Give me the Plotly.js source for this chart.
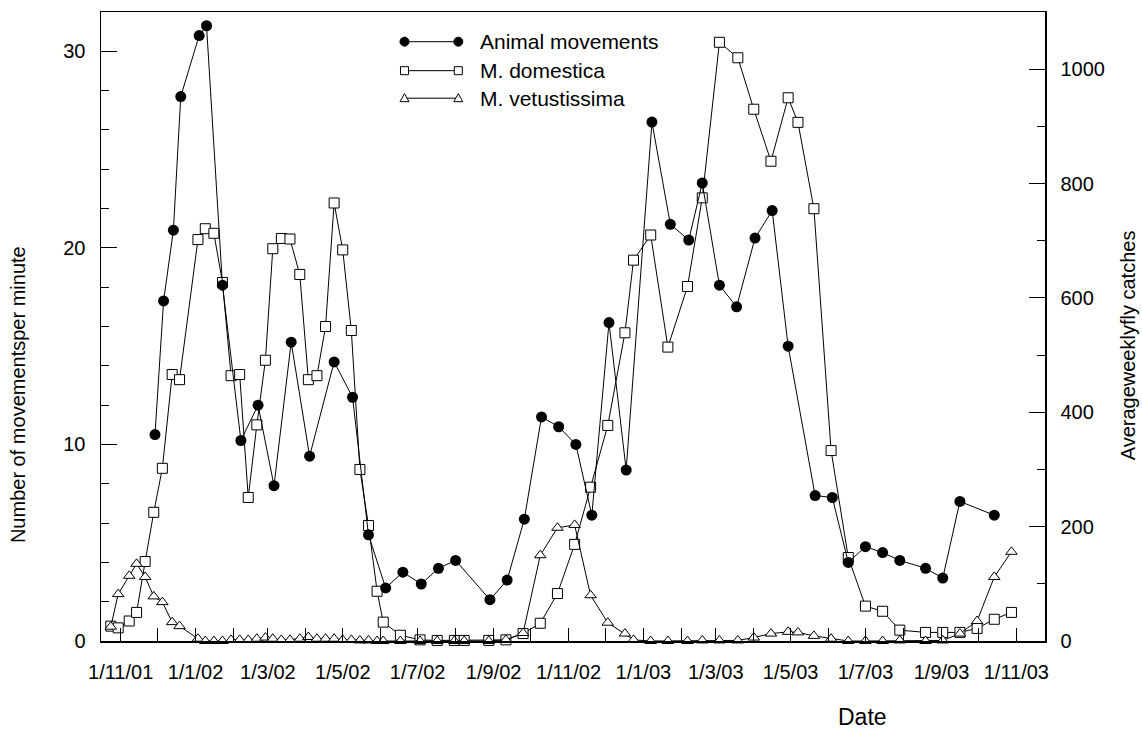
<!DOCTYPE html>
<html>
<head>
<meta charset="utf-8">
<script src="https://cdn.plot.ly/plotly-3.0.1.min.js"></script>
<style>html,body{margin:0;padding:0;background:#fff;}#chart{width:1142px;height:731px;}</style>
</head>
<body>
<div id="chart"></div>
<script>
// ---- Data ----
const animalDates = ['2001-11-29','2001-12-06','2001-12-14','2001-12-20','2002-01-04','2002-01-10','2002-01-23','2002-02-07','2002-02-21','2002-03-06','2002-03-20','2002-04-04','2002-04-24','2002-05-09','2002-05-22','2002-06-05','2002-06-19','2002-07-04','2002-07-18','2002-08-01','2002-08-29','2002-09-12','2002-09-26','2002-10-10','2002-10-24','2002-11-07','2002-11-20','2002-12-04','2002-12-18','2003-01-08','2003-01-23','2003-02-07','2003-02-18','2003-03-04','2003-03-18','2003-04-02','2003-04-16','2003-04-29','2003-05-21','2003-06-04','2003-06-17','2003-07-01','2003-07-15','2003-07-29','2003-08-19','2003-09-02','2003-09-16','2003-10-14'];
const animalMovements = [10.5,17.3,20.9,27.7,30.8,31.3,18.1,10.2,12.0,7.9,15.2,9.4,14.2,12.4,5.4,2.7,3.5,2.9,3.7,4.1,2.1,3.1,6.2,11.4,10.9,10.0,6.4,16.2,8.7,26.4,21.2,20.4,23.3,18.1,17.0,20.5,21.9,15.0,7.4,7.3,4.0,4.8,4.5,4.1,3.7,3.2,7.1,6.4];

const flyDates = ['2001-10-24','2001-10-30','2001-11-08','2001-11-14','2001-11-21','2001-11-28','2001-12-05','2001-12-13','2001-12-19','2002-01-03','2002-01-09','2002-01-16','2002-01-23','2002-01-30','2002-02-06','2002-02-13','2002-02-20','2002-02-27','2002-03-05','2002-03-12','2002-03-19','2002-03-27','2002-04-03','2002-04-10','2002-04-17','2002-04-24','2002-05-01','2002-05-08','2002-05-15','2002-05-22','2002-05-29','2002-06-03','2002-06-17','2002-07-03','2002-07-17','2002-07-31','2002-08-08','2002-08-28','2002-09-11','2002-09-25','2002-10-09','2002-10-23','2002-11-06','2002-11-19','2002-12-03','2002-12-17','2002-12-24','2003-01-07','2003-01-21','2003-02-06','2003-02-18','2003-03-04','2003-03-19','2003-04-01','2003-04-15','2003-04-29','2003-05-07','2003-05-20','2003-06-03','2003-06-17','2003-07-01','2003-07-15','2003-07-29','2003-08-19','2003-09-02','2003-09-16','2003-09-30','2003-10-14','2003-10-28'];
const domestica = [26,23,35,50,139,225,302,466,457,702,721,713,627,464,466,251,378,491,686,704,703,641,457,464,550,766,684,543,300,202,87,33,10,2,1,1,1,1,2,13,31,83,169,269,377,539,666,710,514,620,775,1047,1020,930,839,950,907,756,333,146,61,52,19,15,15,15,22,38,50];
const vetustissima = [25,82,114,135,112,78,68,33,26,4,0,0,0,2,2,2,4,6,4,2,2,4,7,4,4,4,2,2,1,1,0,0,0,0,0,0,0,0,2,14,150,198,203,80,32,13,2,0,0,0,1,1,1,6,13,16,15,9,4,0,0,0,1,0,1,13,35,112,156];

const seriesNames = ['Animal movements','M. domestica','M. vetustissima'];
const xTitle = 'Date';
const yLeftTitle = 'Number of movementsper minute';
const yRightTitle = 'Averageweeklyfly catches';

// ---- Traces ----
const traces = [
  {x: flyDates, y: domestica, name: seriesNames[1], type: 'scatter', mode: 'lines+markers', yaxis: 'y', cliponaxis: false,
   line: {color: '#000', width: 1}, marker: {symbol: 'square', size: 10, color: '#fff', line: {color: '#000', width: 1}}},
  {x: flyDates, y: vetustissima, name: seriesNames[2], type: 'scatter', mode: 'lines+markers', yaxis: 'y', cliponaxis: false,
   line: {color: '#000', width: 1}, marker: {symbol: 'triangle-up', size: 10, color: '#fff', line: {color: '#000', width: 1}}},
  {x: animalDates, y: animalMovements, name: seriesNames[0], type: 'scatter', mode: 'lines+markers', yaxis: 'y2', cliponaxis: false,
   line: {color: '#000', width: 1}, marker: {symbol: 'circle', size: 11, color: '#000'}}
];

// ---- Custom legend (line with a marker at each end) ----
const legX0 = 0.3215, legX1 = 0.3785, legTextX = 0.399;
const legY = [0.9528, 0.9067, 0.863];
const shapes = [];
const annotations = [];
const legendSymbols = ['circle', 'square', 'triangle'];
legY.forEach((yy, i) => {
  shapes.push({type: 'line', xref: 'paper', yref: 'paper', x0: legX0, x1: legX1, y0: yy, y1: yy, line: {color: '#000', width: 1}});
  [legX0, legX1].forEach(xa => {
    const base = {xref: 'paper', yref: 'paper', xsizemode: 'pixel', ysizemode: 'pixel', xanchor: xa, yanchor: yy};
    if (legendSymbols[i] === 'circle') {
      shapes.push(Object.assign({type: 'circle', x0: -4.5, x1: 4.5, y0: -4.5, y1: 4.5, fillcolor: '#000', line: {color: '#000', width: 1}}, base));
    } else if (legendSymbols[i] === 'square') {
      shapes.push(Object.assign({type: 'rect', x0: -4, x1: 4, y0: -4, y1: 4, fillcolor: '#fff', line: {color: '#000', width: 1}}, base));
    } else {
      shapes.push(Object.assign({type: 'path', path: 'M -4.5,-3.5 L 4.5,-3.5 L 0,4.5 Z', fillcolor: '#fff', line: {color: '#000', width: 1}}, base));
    }
  });
  annotations.push({xref: 'paper', yref: 'paper', x: legTextX, y: yy, xanchor: 'left', yanchor: 'middle', showarrow: false,
    text: seriesNames[i], font: {size: 21, color: '#000'}});
});

annotations.push({xref: 'paper', yref: 'paper', x: 0.8072, y: -0.1208, xanchor: 'center', yanchor: 'middle', showarrow: false,
  text: xTitle, font: {size: 23, color: '#000'}});
annotations.push({xref: 'paper', yref: 'paper', x: -0.0879, y: 0.391, xanchor: 'center', yanchor: 'middle', showarrow: false,
  textangle: -90, text: yLeftTitle, font: {size: 20, color: '#000'}});
annotations.push({xref: 'paper', yref: 'paper', x: 1.0879, y: 0.47, xanchor: 'center', yanchor: 'middle', showarrow: false,
  textangle: -90, text: yRightTitle, font: {size: 20, color: '#000'}});

const axisLine = {showline: true, linecolor: '#000', linewidth: 1.5, showgrid: false, zeroline: false};

const layout = {
  width: 1142, height: 731,
  margin: {l: 101, r: 97, t: 12, b: 90, pad: 0},
  paper_bgcolor: '#fff', plot_bgcolor: '#fff',
  showlegend: false,
  font: {family: '"Liberation Sans", Arial, sans-serif', size: 20, color: '#000'},
  xaxis: Object.assign({
    type: 'date', range: ['2001-10-16', '2003-11-24 08:00'],
    tick0: '2001-11-01', dtick: 'M2', tickformat: '%-d/%-m/%y',
    ticks: 'inside', ticklen: 13, tickwidth: 1, tickcolor: '#000', mirror: true,
    ticklabelstandoff: 12,
    minor: {tick0: '2001-11-01', dtick: 'M1', ticks: 'inside', ticklen: 13, tickwidth: 1, tickcolor: '#000', showgrid: false}
  }, axisLine),
  yaxis: Object.assign({
    side: 'right', range: [0, 1100], tick0: 0, dtick: 200,
    ticks: 'inside', ticklen: 16, tickwidth: 1, tickcolor: '#000',
    ticklabelstandoff: 10,
    minor: {tick0: 0, dtick: 100, ticks: 'inside', ticklen: 8, tickwidth: 1, tickcolor: '#000', showgrid: false}
  }, axisLine),
  yaxis2: Object.assign({
    side: 'left', overlaying: 'y', range: [0, 32], tick0: 0, dtick: 10,
    ticks: 'inside', ticklen: 16, tickwidth: 1, tickcolor: '#000',
    ticklabelstandoff: 10,
    minor: {tick0: 0, dtick: 2, ticks: 'inside', ticklen: 8, tickwidth: 1, tickcolor: '#000', showgrid: false}
  }, axisLine),
  shapes: shapes,
  annotations: annotations
};

Plotly.newPlot('chart', traces, layout, {displayModeBar: false, staticPlot: true});
</script>
</body>
</html>
